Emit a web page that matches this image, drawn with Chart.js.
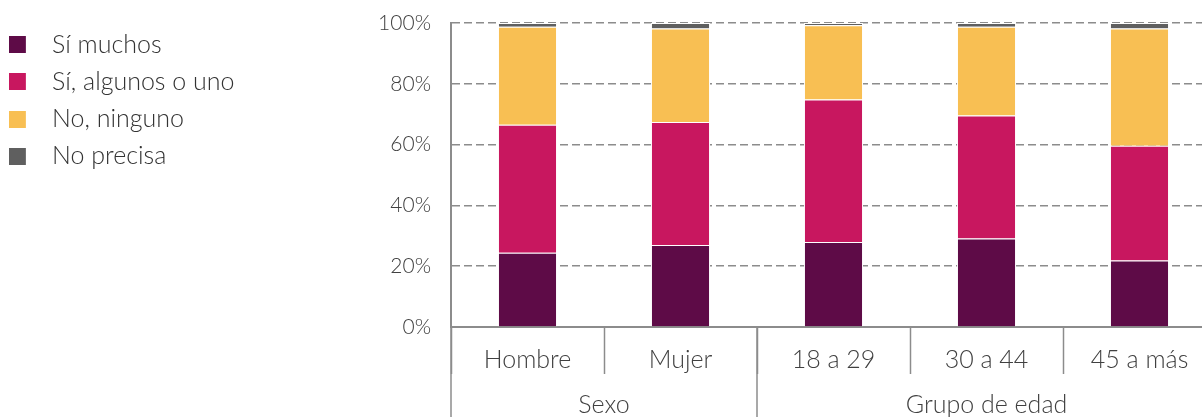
<!DOCTYPE html>
<html>
<head>
<meta charset="utf-8">
<script src="https://cdn.jsdelivr.net/npm/chart.js@4/dist/chart.umd.min.js"></script>
<style>
  html, body { margin: 0; padding: 0; background: #fff; overflow: hidden; }
  #wrap { width: 1216px; height: 417px; }
</style>
</head>
<body>
<div id="wrap"><canvas id="myChart"></canvas></div>
<script>
// data (percent of each group)
const categories = ['Hombre', 'Mujer', '18 a 29', '30 a 44', '45 a más'];
const groupNames = ['Sexo', 'Grupo de edad'];
const groupSizes = [2, 3];
const seriesNames = ['Sí muchos', 'Sí, algunos o uno', 'No, ninguno', 'No precisa'];
const siMuchos = [24.4, 27.0, 28.0, 29.1, 21.9];
const siAlgunos = [42.1, 40.4, 46.8, 40.5, 37.7];
const noNinguno = [32.3, 30.8, 24.5, 29.2, 38.6];
const noPrecisa = [1.2, 1.8, 0.7, 1.2, 1.8];
const yTicks = [0, 20, 40, 60, 80, 100];

const colors = ['#5e0b47', '#c8175f', '#f8bf53', '#5f5f5f'];
const axisGray = '#8c8c8c';
const textGray = '#404040';
const font = 'Lato, "Open Sans", sans-serif';

// legend swatch: square on the left of a wider transparent canvas
function swatch(color) {
  const c = document.createElement('canvas');
  c.width = 34; c.height = 17;
  const g = c.getContext('2d');
  g.fillStyle = color;
  g.fillRect(0, 0, 17, 17);
  return c;
}

// group labels under the category labels, plus the long separators
const groupPlugin = {
  id: 'groupLabels',
  afterDraw(chart) {
    const ctx = chart.ctx;
    const x = chart.scales.x;
    ctx.save();
    ctx.strokeStyle = axisGray;
    ctx.lineWidth = 1.5;
    let start = -0.5;
    const edges = [start];
    groupSizes.forEach(n => { start += n; edges.push(start); });
    edges.forEach(e => {
      const px = x.getPixelForValue(e);
      ctx.beginPath();
      ctx.moveTo(px, x.top);
      ctx.lineTo(px, chart.height);
      ctx.stroke();
    });
    ctx.fillStyle = textGray;
    ctx.font = '300 25px ' + font;
    ctx.textAlign = 'center';
    ctx.textBaseline = 'middle';
    for (let i = 0; i < groupNames.length; i++) {
      const mid = (x.getPixelForValue(edges[i]) + x.getPixelForValue(edges[i + 1])) / 2;
      ctx.fillText(groupNames[i], mid, 405);
    }
    ctx.restore();
  }
};

const datasets = [siMuchos, siAlgunos, noNinguno, noPrecisa].map((d, i) => ({
  label: seriesNames[i],
  data: d,
  backgroundColor: colors[i],
  borderColor: '#ffffff',
  borderWidth: 1,
  barPercentage: 0.386,
  categoryPercentage: 1
}));

const config = {
  type: 'bar',
  data: { labels: categories, datasets: datasets },
  options: {
    responsive: true,
    maintainAspectRatio: false,
    animation: false,
    layout: { padding: { top: 20, left: 0, right: 0, bottom: 0 } },
    plugins: {
      tooltip: { enabled: false },
      legend: {
        position: 'left',
        align: 'start',
        labels: {
          usePointStyle: true,
          pointStyleWidth: 27.3,
          padding: 12.2,
          color: '#333',
          font: { family: font, size: 25, weight: 300 },
          generateLabels(chart) {
            const items = Chart.defaults.plugins.legend.labels.generateLabels(chart);
            items.forEach((it, i) => { it.pointStyle = swatch(colors[i]); });
            return items;
          }
        }
      }
    },
    scales: {
      x: {
        stacked: true,
        grid: {
          offset: true,
          drawOnChartArea: false,
          drawTicks: true,
          tickLength: 47,
          tickColor: axisGray,
          tickWidth: 1.5
        },
        border: { color: axisGray, width: 2 },
        ticks: { color: textGray, padding: -29, font: { family: font, size: 25, weight: 300 } },
        afterFit(s) { s.height = 90; }
      },
      y: {
        stacked: true,
        min: 0,
        max: 100,
        afterBuildTicks(s) { s.ticks = yTicks.map(v => ({ value: v })); },
        grid: { color: axisGray, lineWidth: 1.5, drawTicks: false },
        border: { color: axisGray, width: 2, dash: [8, 4] },
        ticks: {
          color: textGray,
          padding: 20,
          font: { family: font, size: 21, weight: 300 },
          callback: v => v + '%'
        },
        afterFit(s) {
          const lw = s.chart.legend ? s.chart.legend.width : 0;
          s.width = 451 - lw;
          s.paddingTop = 23;
        }
      }
    }
  },
  plugins: [groupPlugin]
};

new Chart(document.getElementById('myChart'), config);
</script>
</body>
</html>
